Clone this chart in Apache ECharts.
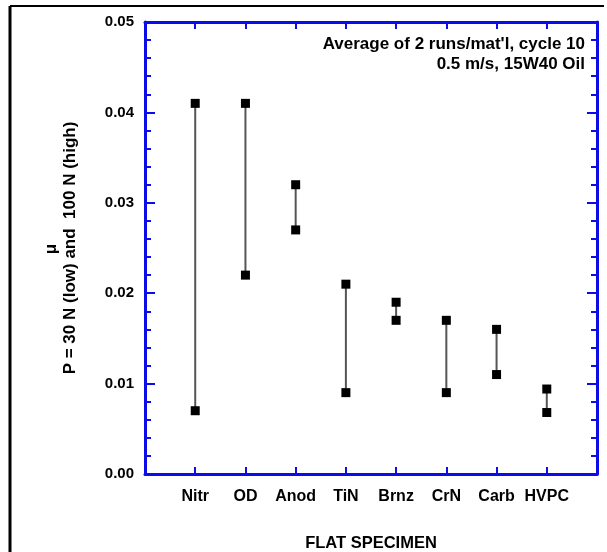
<!DOCTYPE html>
<html><head><meta charset="utf-8">
<script src="https://cdn.jsdelivr.net/npm/echarts@6/dist/echarts.min.js"></script>
<style>html,body{margin:0;padding:0;background:#fff}#c{width:607px;height:552px}</style>
</head><body><div id="c"></div>
<script>
const categories = ['Nitr','OD','Anod','TiN','Brnz','CrN','Carb','HVPC'];
const highValues = [0.041, 0.041, 0.032, 0.021, 0.019, 0.017, 0.016, 0.0094];
const lowValues  = [0.007, 0.022, 0.027, 0.009, 0.017, 0.009, 0.011, 0.0068];
const yTicks = [0, 0.01, 0.02, 0.03, 0.04, 0.05];

const blue = '#0c0ce6';
const F = '"Liberation Sans", Arial, sans-serif';
const chart = echarts.init(document.getElementById('c'), null, {renderer:'canvas'});
const pos = categories.map((c,i)=>i+1);
const axisLine = {show:true,onZero:false,lineStyle:{color:blue,width:3}};
chart.setOption({
  animation:false,
  grid:{left:145,right:10,top:22,bottom:78,containLabel:false,outerBoundsMode:'none'},
  xAxis:[
    {type:'value',min:0,max:9,interval:1,position:'bottom',axisLine,splitLine:{show:false},
      axisTick:{show:true,inside:true,length:7,lineStyle:{color:blue,width:2}},
      axisLabel:{margin:15,color:'#000',fontFamily:F,fontWeight:'bold',fontSize:16,
        formatter:v=>(v>=1&&v<=categories.length)?categories[v-1]:''},
      name:'FLAT SPECIMEN',nameLocation:'middle',nameGap:61,
      nameTextStyle:{color:'#000',fontFamily:F,fontWeight:'bold',fontSize:16.5}
    },
    {type:'value',min:0,max:9,interval:1,position:'top',axisLine,splitLine:{show:false},
      axisTick:{show:true,inside:true,length:7,lineStyle:{color:blue,width:2}},
      axisLabel:{show:false}}
  ],
  yAxis:[
    {type:'value',min:0,max:0.05,interval:0.01,position:'left',axisLine,splitLine:{show:false},
      axisTick:{show:true,inside:true,length:10,lineStyle:{color:blue,width:2}},
      minorTick:{show:true,splitNumber:5,length:6,lineStyle:{color:blue,width:2}},
      axisLabel:{margin:11,color:'#000',fontFamily:F,fontWeight:'bold',fontSize:15,
        formatter:v=>{const t=yTicks.find(x=>Math.abs(x-v)<1e-9);return t===undefined?'':t.toFixed(2);}}
    },
    {type:'value',min:0,max:0.05,interval:0.01,position:'right',axisLine,splitLine:{show:false},
      axisTick:{show:true,inside:true,length:10,lineStyle:{color:blue,width:2}},
      minorTick:{show:true,splitNumber:5,length:6,lineStyle:{color:blue,width:2}},
      axisLabel:{show:false}}
  ],
  graphic:[
    {type:'line',shape:{x1:10,y1:6,x2:604,y2:6},style:{stroke:'#000',lineWidth:2}},
    {type:'line',shape:{x1:10,y1:6,x2:10,y2:552},style:{stroke:'#000',lineWidth:3}},
    {type:'text',x:585,y:53,style:{text:"Average of 2 runs/mat'l, cycle 10",fill:'#000',
      font:'bold 17px '+F,textAlign:'right',textVerticalAlign:'bottom'}},
    {type:'text',x:585,y:73,style:{text:"0.5 m/s, 15W40 Oil",fill:'#000',
      font:'bold 17px '+F,textAlign:'right',textVerticalAlign:'bottom'}},
    {type:'text',x:51,y:249,rotation:Math.PI/2,style:{text:'μ',fill:'#000',
      font:'bold 17px '+F,textAlign:'center',textVerticalAlign:'middle'}},
    {type:'text',x:70,y:248,rotation:Math.PI/2,style:{text:'P = 30 N (low) and  100 N (high)',fill:'#000',
      font:'bold 17px '+F,textAlign:'center',textVerticalAlign:'middle'}}
  ],
  series:[
    {type:'custom',xAxisIndex:0,yAxisIndex:0,
      data:pos.map((p,i)=>[p,lowValues[i],highValues[i]]),
      renderItem:(params,api)=>{
        const a=api.coord([api.value(0),api.value(1)]);
        const b=api.coord([api.value(0),api.value(2)]);
        return {type:'line',shape:{x1:a[0],y1:a[1],x2:b[0],y2:b[1]},style:{stroke:'#555',lineWidth:2}};
      },z:1},
    {type:'scatter',symbol:'rect',symbolSize:9,data:pos.map((p,i)=>[p,highValues[i]]),
      itemStyle:{color:'#000',opacity:1},z:3},
    {type:'scatter',symbol:'rect',symbolSize:9,data:pos.map((p,i)=>[p,lowValues[i]]),
      itemStyle:{color:'#000',opacity:1},z:3}
  ]
});
</script></body></html>
